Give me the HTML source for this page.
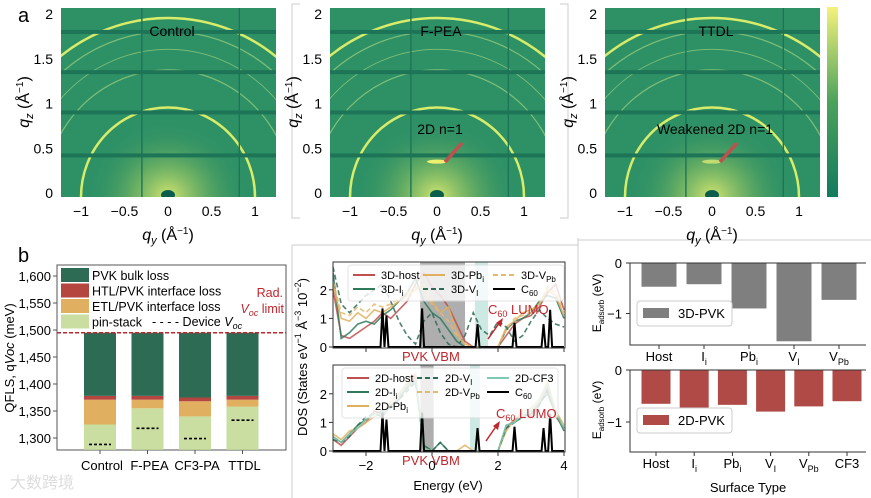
<!DOCTYPE html>
<html><head><meta charset="utf-8"><style>
html,body{margin:0;padding:0;background:#fff;}
svg{display:block;font-family:"Liberation Sans",Arial,sans-serif;}
</style></head><body>
<svg id="fig" width="871" height="498" viewBox="0 0 871 498">
<defs>
<radialGradient id="glow" cx="0.5" cy="0.5" r="0.5">
<stop offset="0" stop-color="#d4e670"/><stop offset="0.45" stop-color="#7cb862" stop-opacity="0.7"/><stop offset="1" stop-color="#2f8f62" stop-opacity="0"/>
</radialGradient>
<linearGradient id="cbar" x1="0" y1="1" x2="0" y2="0">
<stop offset="0" stop-color="#137a5e"/><stop offset="0.5" stop-color="#4ba25c"/><stop offset="1" stop-color="#f5f27a"/>
</linearGradient>
</defs>
<path d="M300 4 L292 4 L292 218 L300 218 M560 4 L568 4 L568 218 L560 218 M578 238 L578 498 M578 240 L871 240 M292 245 L578 245 M292 245 L292 498" fill="none" stroke="#ccc" stroke-width="1"/>
<text x="18" y="22" font-size="20">a</text>
<text x="18" y="262" font-size="20">b</text>
<g id="giwaxs"></g>
<rect x="827" y="7" width="11" height="190" fill="url(#cbar)"/>
<g id="qfls"></g>
<g id="dos"></g>
<g id="eads"></g>
<text x="10" y="488" font-size="16" fill="#ddd">大数跨境</text>
</svg>
<script>
const NS="http://www.w3.org/2000/svg";
function mk(parent,tag,attrs,text){const e=document.createElementNS(NS,tag);for(const k in attrs)e.setAttribute(k,attrs[k]);if(text!==undefined)e.textContent=text;parent.appendChild(e);return e;}

/* ---------- GIWAXS panels ---------- */
const giwaxsTitles=["Control","F-PEA","TTDL"];
const giwaxsCenters=[168,437,712];
const ringRadii=[1.0,1.42,1.65,1.85,2.0];
const ringWidths=[2.5,1.2,0.8,1.2,2.5];
const gapLinesQz=[1.8,1.35,0.9,0.42];
const gapLinesQy=[-0.3,0.82];
const qyTicks=[-1,-0.5,0,0.5,1];
const qzTicks=[0,0.5,1,1.5,2];
const G=document.getElementById('giwaxs');
giwaxsCenters.forEach((cx,pi)=>{
  const sx=87,sy=89.5,y0=193,L=cx-107,R=cx+108,T=8,B=197;
  const X=q=>cx+q*sx, Y=q=>y0-q*sy;
  const g=mk(G,'g',{});
  
  
  const cid='clip'+pi;
  const cp=mk(g,'clipPath',{id:cid});mk(cp,'rect',{x:L,y:T,width:R-L,height:B-T});
  const inner=mk(g,'g',{'clip-path':'url(#'+cid+')'});
  mk(inner,'rect',{x:L,y:T,width:R-L,height:B-T,fill:'#2e9166'});
  mk(inner,'ellipse',{cx:cx,cy:B,rx:80,ry:75,fill:'url(#glow)'});
  ringRadii.forEach((r,i)=>{
    const a=mk(inner,'ellipse',{cx:cx,cy:y0+4,rx:r*sx,ry:r*sy,fill:'none',stroke:i===0||i===4?'#d8ec6a':'#7fbf78','stroke-width':ringWidths[i]});
    
    
  });
  mk(inner,'ellipse',{cx:cx,cy:B-2,rx:7,ry:5,fill:'#0b5e4c'});
  if(pi>0){mk(inner,'ellipse',{cx:cx,cy:Y(0.35),rx:10,ry:2,fill:pi===1?'#f0f070':'#c0dc70'});}
  gapLinesQz.forEach(q=>mk(inner,'rect',{x:L,y:Y(q)-2,width:R-L,height:4,fill:'#1d7457'}));
  gapLinesQy.forEach(q=>mk(inner,'rect',{x:X(q)-0.7,y:T,width:1.4,height:B-T,fill:'#1d7457'}));
  const t=mk(g,'text',{x:cx+4,y:36,'font-size':14,'text-anchor':'middle'},giwaxsTitles[pi]);
  
  qyTicks.forEach(q=>{const tt=mk(g,'text',{x:X(q),y:216,'font-size':14,'text-anchor':'middle'},q<0?'−'+Math.abs(q):String(q));
    });
  qzTicks.forEach(q=>{const tt=mk(g,'text',{x:L-8,y:Y(q)+5,'font-size':14,'text-anchor':'end'},String(q));
    });
  const xl=mk(g,'text',{x:cx,y:240,'font-size':16,'text-anchor':'middle'});
  
  xl.innerHTML='<tspan font-style="italic">q</tspan><tspan font-style="italic" font-size="11" dy="4">y</tspan><tspan dy="-4"> (Å</tspan><tspan font-size="10" dy="-6">−1</tspan><tspan dy="6">)</tspan>';
  const yl=mk(g,'text',{transform:`translate(${L-32},102) rotate(-90)`,'font-size':16,'text-anchor':'middle'});
  
  yl.innerHTML='<tspan font-style="italic">q</tspan><tspan font-style="italic" font-size="11" dy="4">z</tspan><tspan dy="-4"> (Å</tspan><tspan font-size="10" dy="-6">−1</tspan><tspan dy="6">)</tspan>';
  if(pi>0){
    const lab=mk(g,'text',{x:cx+3,y:134,'font-size':14,'text-anchor':'middle'},pi===1?'2D n=1':'Weakened 2D n=1');
    
    mk(g,'line',{x1:cx+25,y1:143,x2:cx+8,y2:162,stroke:'#c0504d','stroke-width':3.5});
  }
});

/* ---------- QFLS stacked bars ---------- */
const qCats=["Control","F-PEA","CF3-PA","TTDL"];
const qPin=[1325,1355,1340,1358];
const qEtl=[1371,1371,1368,1371];
const qHtl=[1378,1378,1375,1378];
const qBulk=[1495,1495,1495,1495];
const qVoc=[1288,1318,1299,1333];
const qTicks=[1300,1350,1400,1450,1500,1550,1600];
(function(){
  const Q=document.getElementById('qfls');
  const L=57,R=286,T=265,B=450,base=1278;
  const y=v=>330+(1500-v)*0.54;
  const xc=i=>100+i*47.5, bw=32;
  mk(Q,'rect',{x:L,y:T,width:R-L,height:B-T,fill:'#fff',stroke:'#555'});
  qTicks.forEach(v=>{mk(Q,'line',{x1:L-4,x2:L,y1:y(v),y2:y(v),stroke:'#555'});
    const t=mk(Q,'text',{x:L-6,y:y(v)+5,'font-size':13,'text-anchor':'end'},v.toLocaleString('en-US'));
    });
  qCats.forEach((c,i)=>{
    const segs=[[base,qPin[i],'#c9dea0'],[qPin[i],qEtl[i],'#e0b060'],[qEtl[i],qHtl[i],'#b5453f'],[qHtl[i],qBulk[i],'#2e6b55']];
    segs.forEach(s=>{const r=mk(Q,'rect',{x:xc(i)-bw/2,y:y(s[1]),width:bw,height:y(s[0])-y(s[1]),fill:s[2]});
      });
    const d=mk(Q,'line',{x1:xc(i)-11,x2:xc(i)+11,y1:y(qVoc[i]),y2:y(qVoc[i]),stroke:'#000','stroke-width':1.6,'stroke-dasharray':'3,2'});
    
    mk(Q,'line',{x1:xc(i),x2:xc(i),y1:B,y2:B+4,stroke:'#555'});
    const t=mk(Q,'text',{x:xc(i)+2,y:470,'font-size':13,'text-anchor':'middle'},c);
    
  });
  const rl=mk(Q,'line',{x1:L,x2:R,y1:y(1495),y2:y(1495),stroke:'#c0262d','stroke-width':1.5,'stroke-dasharray':'4,2'});
  
  const leg=[['PVK bulk loss','#2e6b55'],['HTL/PVK interface loss','#b5453f'],['ETL/PVK interface loss','#e0b060'],['pin-stack','#c9dea0']];
  const lg=mk(Q,'g',{});
  leg.forEach((l,i)=>{mk(lg,'rect',{x:61,y:268+i*15.5,width:28,height:14,fill:l[1]});
    mk(lg,'text',{x:92,y:280+i*15.5,'font-size':12.5},l[0]);});
  const dv=mk(lg,'text',{x:152,y:326,'font-size':12.5});dv.innerHTML='- - - - Device <tspan font-style="italic">V</tspan><tspan font-style="italic" font-size="9" dy="3">oc</tspan>';
  mk(Q,'text',{x:283,y:297,'font-size':12.5,fill:'#c0262d','text-anchor':'end'},'Rad.');
  const vl=mk(Q,'text',{x:284,y:313,'font-size':12.5,fill:'#c0262d','text-anchor':'end'});vl.innerHTML='<tspan font-style="italic">V</tspan><tspan font-style="italic" font-size="9" dy="3">oc</tspan><tspan dy="-3"> limit</tspan>';
  const yl=mk(Q,'text',{transform:'translate(14,358) rotate(-90)','font-size':13,'text-anchor':'middle'});
  
  yl.innerHTML='QFLS, q<tspan font-style="italic">Voc</tspan> (meV)';
})();

/* ---------- DOS ---------- */
const dosE=[-3,-2.75,-2.5,-2.25,-2,-1.75,-1.5,-1.25,-1,-0.75,-0.5,-0.25,0,0.25,0.5,0.75,1,1.25,1.5,1.75,2,2.25,2.5,2.75,3,3.25,3.5,3.75,4];
const dos3DHost=[2.0,0.4,0.3,0.5,0.7,0.9,1.2,1.0,1.3,1.6,2.2,2.6,2.1,1.8,1.4,0.8,0.2,0,0,0,0,0.4,0.8,1.0,1.1,1.4,1.9,2.2,1.3];
const dos3DIi=[2.6,0.3,0.5,0.8,0.9,0.8,1.1,1.3,1.6,1.9,2.4,1.6,1.2,1.0,0.6,0.2,0,0,0,0,0,0.6,0.9,1.0,1.2,1.6,1.8,1.7,1.0];
const dos3DPbi=[2.2,1.0,0.9,1.2,1.0,1.3,1.2,1.4,1.6,1.8,2.0,2.2,1.6,1.2,1.4,0.5,0.1,0,0,0,0,0.7,0.9,1.2,1.3,1.5,2.0,1.8,1.1];
const dos3DVI=[2.8,1.5,1.2,1.5,1.8,2.0,2.2,1.6,0.9,0.4,0.1,0.9,1.2,0.5,0.1,0,0.4,1.2,0.6,0.4,0.9,0.7,0.2,0.4,0.9,1.3,1.0,0.8,0.7];
const dos3DVPb=[2.3,1.2,1.1,1.4,1.2,1.5,1.4,1.5,1.7,1.9,2.1,2.0,1.5,1.2,0.9,0.4,0.1,0,0,0,0,0.6,1.0,1.1,1.2,1.5,2.1,1.9,1.2];
const dos2DHost=[0.4,0.2,0.5,0.8,1.0,1.4,1.3,1.6,1.8,2.3,2.6,0.1,0,0,0,0,0,0,0,0,0,0.8,1.1,1.3,1.2,1.6,2.2,1.2,0.8];
const dos2DIi=[0.5,0.3,0.6,0.9,1.1,1.3,1.4,1.5,1.9,2.2,2.5,0.2,0,0.3,0,0,0,0,0,0,0,0.9,1.0,1.2,1.3,1.7,2.0,1.3,0.7];
const dos2DPbi=[0.6,0.4,0.7,0.8,1.0,1.2,1.3,1.7,2.0,2.4,2.7,0.1,0,0,0,0,0.2,0,0,0,0,0.7,1.1,1.4,1.5,1.8,2.4,1.4,0.9];
const dos2DVI=[0.4,0.3,0.5,0.9,1.2,1.3,1.2,1.6,1.8,2.1,2.4,0.2,0,0.3,0,0,0,0,0,0,0,0.8,1.0,1.2,1.3,1.6,2.1,1.3,0.8];
const dos2DCF3=[0.5,0.3,0.6,0.8,1.1,1.3,1.3,1.5,1.9,2.3,2.5,0.1,0,0,0,0,0,0,0,0,0,0.9,1.0,1.3,1.4,1.7,2.3,1.3,0.8];
const c60Peaks=[-1.5,-1.38,-0.3,1.38,2.5,3.38,3.58];
const c60Heights=[1.35,1.1,1.35,0.8,0.85,0.8,1.3];
const dosTicks=[-2,0,2,4];
const dosYTicks=[0,1,2];
(function(){
  const D=document.getElementById('dos');
  const x=e=>432+33*e;
  const panels=[
    {T:262,B:348,y0:347,sh:[[-0.36,1.0,'#9a9a9a'],[1.3,1.7,'#bfe5dc']],
     series:[[dos3DHost,'#c0504d',''],[dos3DIi,'#2e7a5a',''],[dos3DPbi,'#e0b060',''],[dos3DVI,'#2e6b55','5,3'],[dos3DVPb,'#e6b86a','5,3']],name:'dos-3d'},
    {T:365,B:452,y0:451,sh:[[-0.35,0.05,'#9a9a9a'],[1.15,1.45,'#bfe5dc']],
     series:[[dos2DHost,'#c0504d',''],[dos2DIi,'#2e7a5a',''],[dos2DPbi,'#e0b060',''],[dos2DVI,'#2e6b55','5,3'],[dos2DCF3,'#7ccab4','']],name:'dos-2d'}];
  panels.forEach(p=>{
    const y=v=>p.y0-28.6*v;
    const g=mk(D,'g',{});
    const cid='c'+p.name;const cp=mk(g,'clipPath',{id:cid});mk(cp,'rect',{x:333,y:p.T,width:232,height:p.B-p.T});
    const inner=mk(g,'g',{'clip-path':'url(#'+cid+')'});
    p.sh.forEach(s=>mk(inner,'rect',{x:x(s[0]),y:p.T,width:x(s[1])-x(s[0]),height:p.B-p.T,fill:s[2],opacity:0.8}));
    p.series.forEach(s=>{const pts=dosE.map((e,i)=>x(e)+','+y(s[0][i])).join(' ');
      const l=mk(inner,'polyline',{points:pts,fill:'none',stroke:s[1],'stroke-width':1.6,'stroke-dasharray':s[2],opacity:0.85});
      });
    let pts=[[x(-3),y(0)]];
    c60Peaks.forEach((c,i)=>{pts.push([x(c-0.06),y(0)],[x(c),y(c60Heights[i])],[x(c+0.06),y(0)]);});
    pts.push([x(4),y(0)]);
    const cl=mk(inner,'polyline',{points:pts.map(q=>q.join(',')).join(' '),fill:'none',stroke:'#000','stroke-width':2});
    
    mk(g,'rect',{x:333,y:p.T,width:232,height:p.B-p.T,fill:'none',stroke:'#333'});
    dosYTicks.forEach(v=>{mk(g,'line',{x1:329,x2:333,y1:y(v),y2:y(v),stroke:'#333'});
      const t=mk(g,'text',{x:327,y:y(v)+5,'font-size':13,'text-anchor':'end'},String(v));
      });
    dosTicks.forEach(v=>mk(g,'line',{x1:x(v),x2:x(v),y1:p.B,y2:p.B+4,stroke:'#333'}));
    const vb=mk(g,'text',{x:402,y:p.B+13,'font-size':13,fill:'#c0262d'},'PVK VBM');
    
  });
  dosTicks.forEach(v=>{const t=mk(D,'text',{x:x(v),y:470,'font-size':13,'text-anchor':'middle'},v<0?'−'+Math.abs(v):String(v));
    });
  const xt=mk(D,'text',{x:448,y:490,'font-size':13,'text-anchor':'middle'},'Energy (eV)');
  
  const yt=mk(D,'text',{transform:'translate(307,357) rotate(-90)','font-size':13,'text-anchor':'middle'});
  
  yt.innerHTML='DOS (States eV<tspan font-size="9" dy="-6">−1</tspan><tspan dy="6"> Å</tspan><tspan font-size="9" dy="-6">−3</tspan><tspan dy="6"> 10</tspan><tspan font-size="9" dy="-6">−2</tspan><tspan dy="6">)</tspan>';
  function legend(x0,y0,items,h){const g=mk(D,'g',{});
    mk(g,'rect',{x:x0,y:y0,width:216,height:h,fill:'#fff',opacity:0.8,stroke:'#ddd',rx:3});
    items.forEach(it=>{mk(g,'line',{x1:x0+it[0],x2:x0+it[0]+22,y1:y0+it[1],y2:y0+it[1],stroke:it[3],'stroke-width':2,'stroke-dasharray':it[4]});
      const t=mk(g,'text',{x:x0+it[0]+28,y:y0+it[1]+4,'font-size':11});t.innerHTML=it[2];});}
  legend(348,265,[[5,10,'3D-host','#c0504d',''],[5,24,'3D-I<tspan font-size="8" dy="3">i</tspan>','#2e7a5a',''],[75,10,'3D-Pb<tspan font-size="8" dy="3">i</tspan>','#e0b060',''],[75,24,'3D-V<tspan font-size="8" dy="3">I</tspan>','#2e6b55','5,3'],[145,10,'3D-V<tspan font-size="8" dy="3">Pb</tspan>','#e6b86a','5,3'],[145,24,'C<tspan font-size="8" dy="3">60</tspan>','#000','']],36);
  legend(342,368,[[5,10,'2D-host','#c0504d',''],[5,24,'2D-I<tspan font-size="8" dy="3">i</tspan>','#2e7a5a',''],[5,38,'2D-Pb<tspan font-size="8" dy="3">i</tspan>','#e0b060',''],[75,10,'2D-V<tspan font-size="8" dy="3">I</tspan>','#2e6b55','5,3'],[75,24,'2D-V<tspan font-size="8" dy="3">Pb</tspan>','#e6b86a','5,3'],[145,10,'2D-CF3','#7ccab4',''],[145,24,'C<tspan font-size="8" dy="3">60</tspan>','#000','']],50);
  [[488,314,'488,339 500,322'],[496,418,'486,441 497,425']].forEach((a,i)=>{
    const t=mk(D,'text',{x:a[0],y:a[1],'font-size':13,fill:'#c0262d'});t.innerHTML='C<tspan font-size="9" dy="3">60</tspan><tspan dy="-3"> LUMO</tspan>';
    
    const p=a[2].split(' ');mk(D,'line',{x1:p[0].split(',')[0],y1:p[0].split(',')[1],x2:p[1].split(',')[0],y2:p[1].split(',')[1],stroke:'#c0262d','stroke-width':1.5});
    const ex=+p[1].split(',')[0],ey=+p[1].split(',')[1];
    mk(D,'polygon',{points:`${ex+3},${ey-4} ${ex-4},${ey+1} ${ex+1},${ey+5}`,fill:'#c0262d'});
  });
})();

/* ---------- Adsorption energy bars ---------- */
const ads3DCats=["Host","I_i","Pb_i","V_I","V_Pb"];
const ads3DVals=[-0.47,-0.42,-0.9,-1.55,-0.73];
const ads2DCats=["Host","I_i","Pb_i","V_I","V_Pb","CF3"];
const ads2DVals=[-0.65,-0.8,-0.67,-0.8,-0.7,-0.6];
const adsTicks=[0,-1];
(function(){
  const A=document.getElementById('eads');
  function lab(c){const p=c.split('_');return p.length>1?p[0]+'<tspan font-size="9" dy="4">'+p[1]+'</tspan>':c;}
  const panels=[{cats:ads3DCats,vals:ads3DVals,x0:659,dx:45,bw:35,y0:263,s:50.5,B:345,col:'#7f7f7f',leg:'3D-PVK',ly:313,name:'eads-3d'},
                {cats:ads2DCats,vals:ads2DVals,x0:656,dx:38.2,bw:29,y0:370,s:52,B:452,col:'#b04a47',leg:'2D-PVK',ly:420,name:'eads-2d'}];
  panels.forEach(p=>{
    const g=mk(A,'g',{});
    const y=v=>p.y0-v*p.s;
    p.vals.forEach((v,i)=>{const r=mk(g,'rect',{x:p.x0+i*p.dx-p.bw/2,y:y(0),width:p.bw,height:y(v)-y(0),fill:p.col});
      
      mk(g,'line',{x1:p.x0+i*p.dx,x2:p.x0+i*p.dx,y1:p.B,y2:p.B+4,stroke:'#333'});
      const t=mk(g,'text',{x:p.x0+i*p.dx,y:p.B+16,'font-size':13,'text-anchor':'middle'});t.innerHTML=lab(p.cats[i]);
      });
    mk(g,'path',{d:`M630 ${y(0)} L866 ${y(0)} M630 ${y(0)} L630 ${p.B} L866 ${p.B}`,fill:'none',stroke:'#333'});
    adsTicks.forEach(v=>{mk(g,'line',{x1:626,x2:630,y1:y(v),y2:y(v),stroke:'#333'});
      const t=mk(g,'text',{x:622,y:y(v)+5,'font-size':13,'text-anchor':'end'},v<0?'−1':'0');
      });
    const lg=mk(g,'g',{});
    mk(lg,'rect',{x:637,y:p.ly-12,width:95,height:25,fill:'#fff',stroke:'#ccc',rx:3});
    mk(lg,'rect',{x:643,y:p.ly-5,width:26,height:10,fill:p.col});
    mk(lg,'text',{x:678,y:p.ly+5,'font-size':13},p.leg);
    const yl=mk(g,'text',{transform:`translate(601,${p.y0+40}) rotate(-90)`,'font-size':12,'text-anchor':'middle'});
    yl.innerHTML='E<tspan font-size="8" dy="3">adsorb</tspan><tspan dy="-3"> (eV)</tspan>';
    
  });
  const xt=mk(A,'text',{x:748,y:492,'font-size':13,'text-anchor':'middle'},'Surface Type');
  
})();
</script>
</body></html>
